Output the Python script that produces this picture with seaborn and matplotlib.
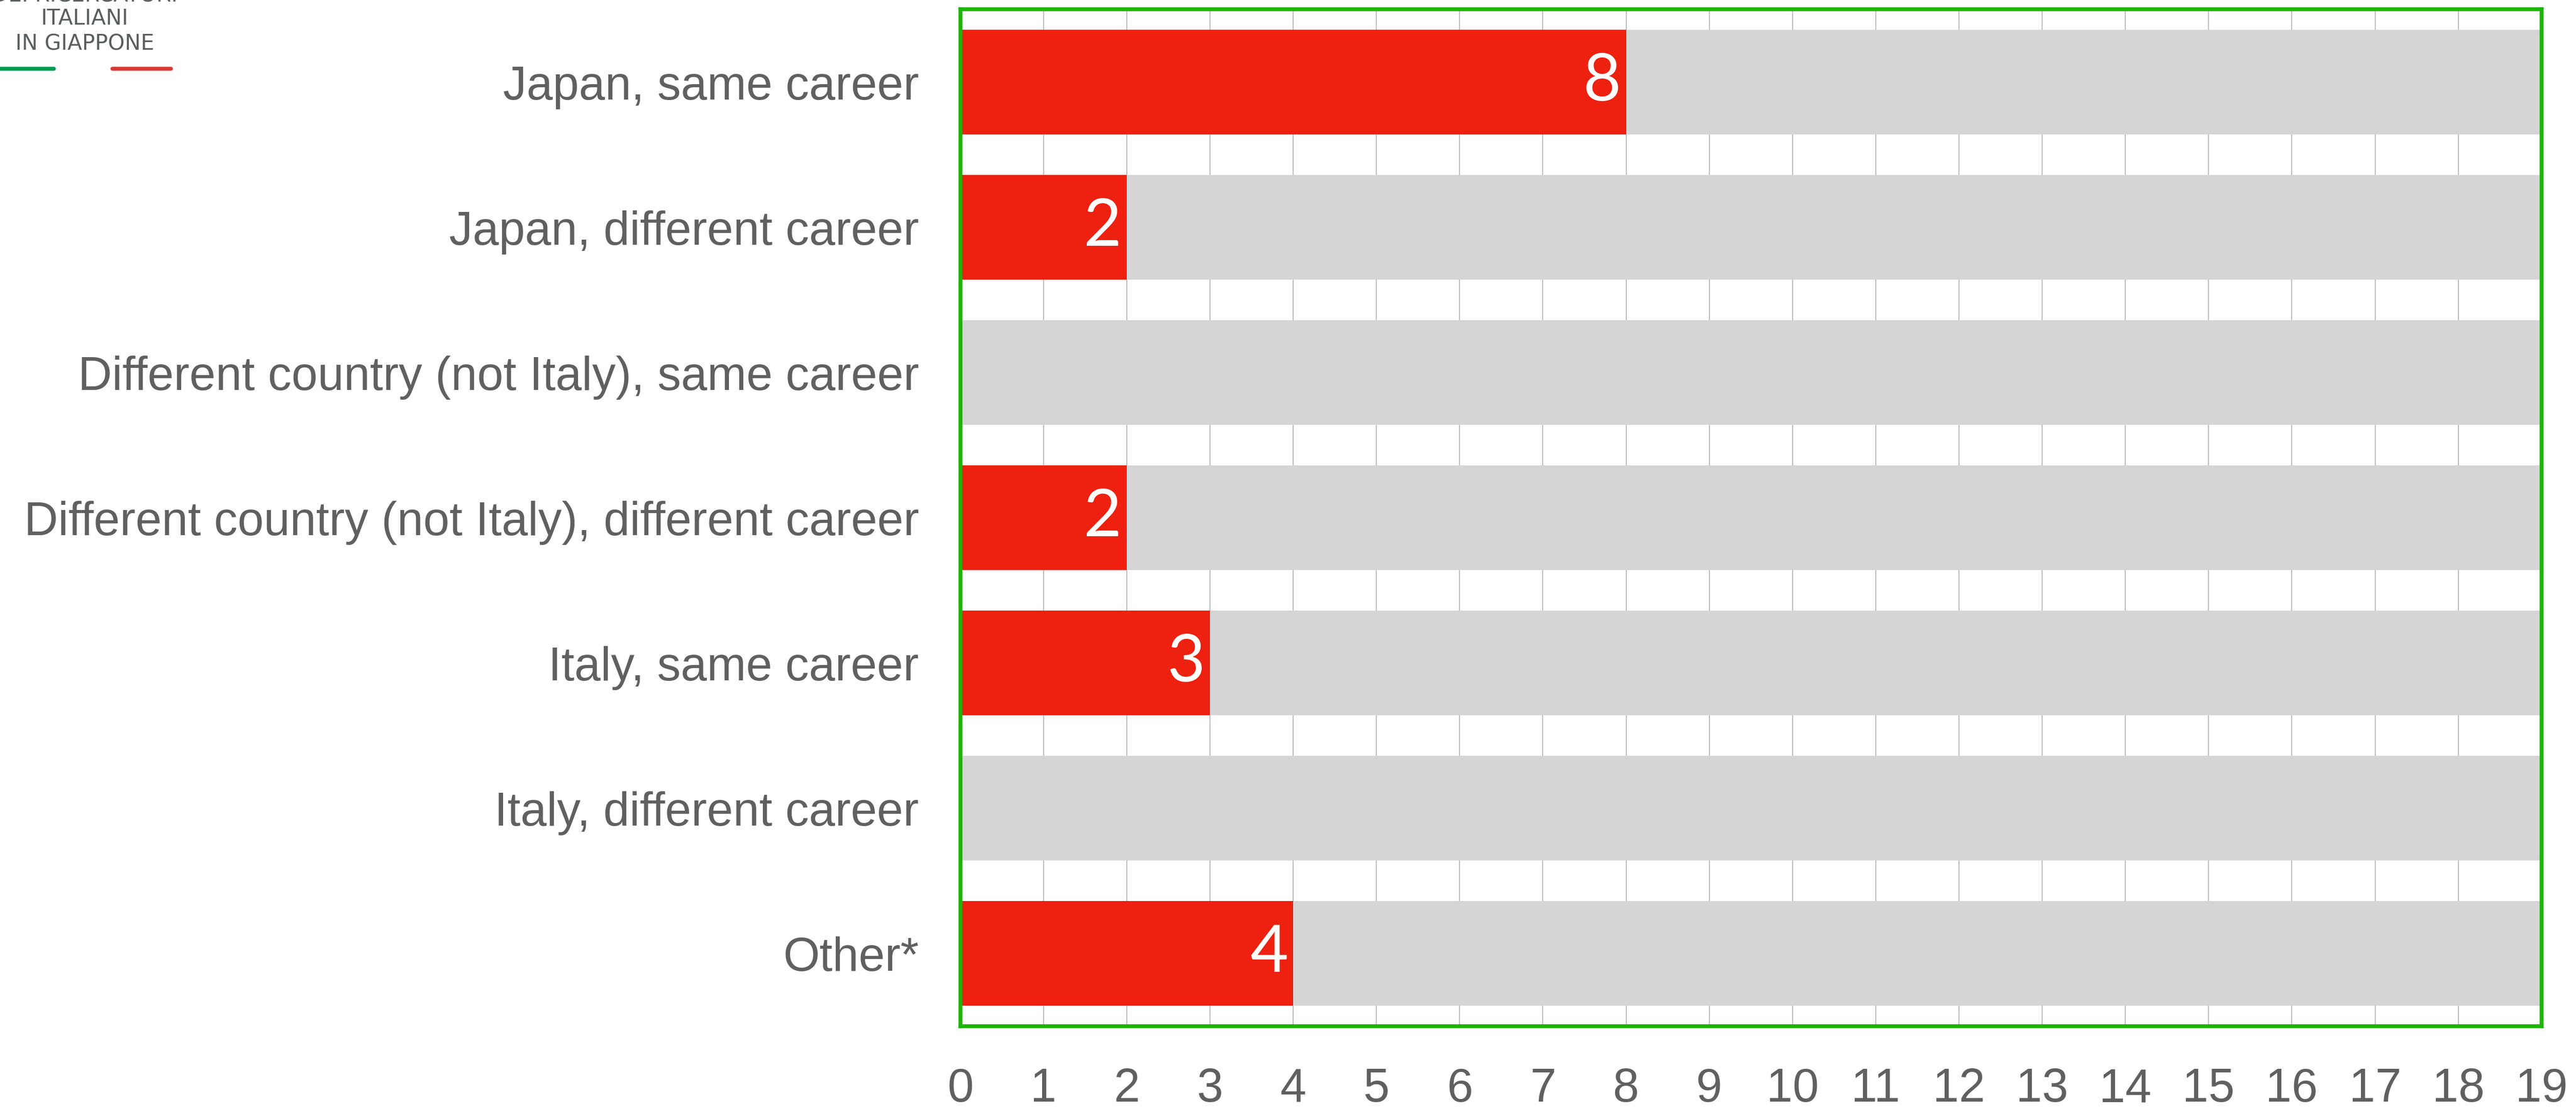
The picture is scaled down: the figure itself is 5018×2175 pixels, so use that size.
import matplotlib
matplotlib.use("Agg")
import matplotlib.pyplot as plt
import seaborn as sns
from matplotlib import font_manager
from matplotlib.lines import Line2D

# ── Data ────────────────────────────────────────────────────────────────
categories = [
    "Japan, same career",
    "Japan, different career",
    "Different country (not Italy), same career",
    "Different country (not Italy), different career",
    "Italy, same career",
    "Italy, different career",
    "Other*",
]
counts = [8, 2, 0, 2, 3, 0, 4]
total_respondents = 19
x_ticks = list(range(0, 20))
logo_lines = ["DEI RICERCATORI", "ITALIANI", "IN GIAPPONE"]

# ── Style ───────────────────────────────────────────────────────────────
RED = "#EE2010"
GRAY = "#D5D5D5"
GREEN = "#1FB40A"
TEXT = "#606060"
GRID = "#BDBDBD"

names = {f.name for f in font_manager.fontManager.ttflist}
LABEL_FONT = "Liberation Sans Narrow" if "Liberation Sans Narrow" in names else "Liberation Sans"

sns.set_style("white")
plt.rcParams["font.family"] = [LABEL_FONT, "DejaVu Sans"]

fig = plt.figure(figsize=(50.18, 21.75), dpi=100)
ax = fig.add_axes([0.3728, 0.0805, 0.6138, 0.9110])

# background bar = total number of respondents
sns.barplot(x=[total_respondents] * len(categories), y=categories, orient="h",
            color=GRAY, saturation=1, width=0.72, linewidth=0, ax=ax, zorder=2)
sns.barplot(x=counts, y=categories, orient="h",
            color=RED, saturation=1, width=0.72, linewidth=0, ax=ax, zorder=3)

ax.set_xlim(0, total_respondents)
ax.set_ylim(len(categories) - 0.5, -0.5)
ax.set_xticks(x_ticks)
ax.set_xlabel("")
ax.set_ylabel("")

ax.xaxis.grid(True, color=GRID, linewidth=1.5, zorder=0)
ax.yaxis.grid(False)
ax.set_axisbelow(True)

for side in ["top", "bottom", "left", "right"]:
    ax.spines[side].set_visible(True)
    ax.spines[side].set_color(GREEN)
    ax.spines[side].set_linewidth(5.5)
    ax.spines[side].set_zorder(5)

ax.tick_params(axis="x", length=0, pad=58, labelsize=66, labelcolor=TEXT)
ax.tick_params(axis="y", length=0, pad=58, labelsize=66, labelcolor=TEXT)

# value labels inside the red bars
for i, v in enumerate(counts):
    if v > 0:
        ax.text(v - 0.06, i, str(v), ha="right", va="center", color="white",
                fontsize=92, family=["Lato", "DejaVu Sans"], zorder=6)

# logo in the top left corner
logo_y = [1 - 3 / 2175, 1 - 48 / 2175, 1 - 97 / 2175]
for txt, y in zip(logo_lines, logo_y):
    fig.text(165 / 5018, y, txt, ha="center", va="baseline", fontsize=30,
             color="#5A5E5E", family=["DejaVu Sans"])
fig.add_artist(Line2D([0, 105 / 5018], [1 - 134 / 2175] * 2, color="#009B4E", linewidth=5.5))
fig.add_artist(Line2D([219 / 5018, 333 / 5018], [1 - 134 / 2175] * 2, color="#DC3732", linewidth=5.5))

fig.savefig("out.png", dpi=100)
plt.close(fig)
